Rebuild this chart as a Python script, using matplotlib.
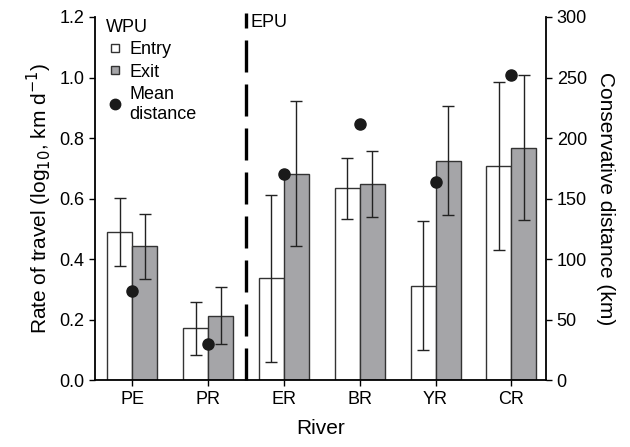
import matplotlib
matplotlib.use("Agg")
import matplotlib.pyplot as plt
from matplotlib.lines import Line2D
import numpy as np

plt.rcParams['font.family'] = ['Liberation Sans', 'DejaVu Sans']

rivers = ["PE", "PR", "ER", "BR", "YR", "CR"]
entry = [0.49, 0.172, 0.337, 0.634, 0.313, 0.708]
entry_lo = [0.377, 0.083, 0.061, 0.532, 0.101, 0.432]
entry_hi = [0.602, 0.26, 0.611, 0.734, 0.526, 0.984]
exit_ = [0.443, 0.214, 0.683, 0.647, 0.725, 0.768]
exit_lo = [0.335, 0.12, 0.445, 0.54, 0.545, 0.529]
exit_hi = [0.549, 0.307, 0.922, 0.758, 0.907, 1.007]
mean_dist = [74, 30, 170, 212, 164, 252]

fig = plt.figure(figsize=(6.3, 4.47), dpi=100)
ax = fig.add_axes([0.151, 0.149, 0.716, 0.813])
ax2 = ax.twinx()

x = np.arange(len(rivers))
w = 0.33
ec = "#333333"
ax.bar(x - w/2, entry, w, color="white", edgecolor=ec, linewidth=1.0, zorder=2)
ax.bar(x + w/2, exit_, w, color="#a5a5a8", edgecolor=ec, linewidth=1.0, zorder=2)
ax.errorbar(x - w/2, entry,
            yerr=[np.array(entry) - np.array(entry_lo), np.array(entry_hi) - np.array(entry)],
            fmt="none", ecolor="#222222", elinewidth=1.0, capsize=4, capthick=1.0, zorder=3)
ax.errorbar(x + w/2, exit_,
            yerr=[np.array(exit_) - np.array(exit_lo), np.array(exit_hi) - np.array(exit_)],
            fmt="none", ecolor="#222222", elinewidth=1.0, capsize=4, capthick=1.0, zorder=3)

ax2.plot(x, mean_dist, "o", color="#1a1a1a", markersize=8, zorder=5)

ax.axvline(1.5, ymax=1.01, color="black", linewidth=2.4, linestyle=(0, (9.6, 3.6)), zorder=4,
           clip_on=False)

ax.set_xlim(-0.49, 5.46)
ax.set_ylim(0, 1.2)
ax2.set_ylim(0, 300)
ax.set_yticks(np.arange(0, 1.21, 0.2))
ax.set_yticklabels([f"{v:.1f}" for v in np.arange(0, 1.21, 0.2)])
ax2.set_yticks(np.arange(0, 301, 50))
ax.set_xticks(x)
ax.set_xticklabels(rivers)

for a in (ax, ax2):
    a.spines["top"].set_visible(False)
    a.tick_params(labelsize=13, width=1.0, length=4, direction="out")
    for s in a.spines.values():
        s.set_linewidth(1.3)
ax.spines["right"].set_visible(False)
ax2.spines["left"].set_visible(False)
ax2.spines["bottom"].set_visible(False)

ax.set_xlabel("River", fontsize=15, labelpad=8)
ax.set_ylabel("Rate of travel (log$_{10}$, km d$^{-1}$)", fontsize=15)
ax2.set_ylabel("Conservative distance (km)", fontsize=15, rotation=270, labelpad=20)

ax2.set_zorder(ax.get_zorder() + 1)
ax2.patch.set_visible(False)

handles = [
    Line2D([], [], marker="s", linestyle="none", markerfacecolor="white", markeredgecolor=ec,
           markersize=5.5, markeredgewidth=1.0),
    Line2D([], [], marker="s", linestyle="none", markerfacecolor="#a5a5a8", markeredgecolor=ec,
           markersize=5.5, markeredgewidth=1.0),
    Line2D([], [], marker="o", linestyle="none", color="#1a1a1a", markersize=7.5),
]
leg = ax.legend(handles, ["Entry", "Exit", "Mean\ndistance"], title="WPU", loc="upper left",
                bbox_to_anchor=(0.0, 1.025), frameon=False, fontsize=13, title_fontsize=13,
                alignment="left", handletextpad=0.3, handlelength=1.0, labelspacing=0.3,
                borderpad=0.3, borderaxespad=0.3)
ax.text(1.56, 1.21, "EPU", fontsize=13, va="top", ha="left")

fig.savefig("out.png", dpi=100)
